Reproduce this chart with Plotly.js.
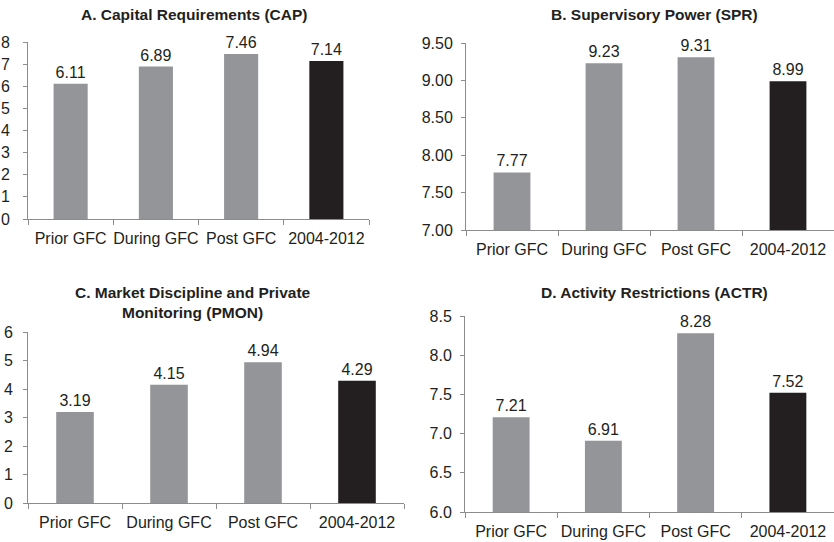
<!DOCTYPE html>
<html>
<head>
<meta charset="utf-8">
<script src="https://cdn.plot.ly/plotly-3.0.1.min.js"></script>
<style>html,body{margin:0;padding:0;background:#fff}#chart{width:834px;height:542px}</style>
</head>
<body>
<div id="chart"></div>
<script>
const categories = ['Prior GFC', 'During GFC', 'Post GFC', '2004-2012'];
const capValues = [6.11, 6.89, 7.46, 7.14];
const sprValues = [7.77, 9.23, 9.31, 8.99];
const pmonValues = [3.19, 4.15, 4.94, 4.29];
const actrValues = [7.21, 6.91, 8.28, 7.52];
const panelTitles = ['<b>A. Capital Requirements (CAP)</b>', '<b>B. Supervisory Power (SPR)</b>',
  '<b>C. Market Discipline and Private</b><br><b>Monitoring (PMON)</b>', '<b>D. Activity Restrictions (ACTR)</b>'];
const barColors = ['#939598', '#939598', '#939598', '#231f20'];

const FONT = 'Liberation Sans, Arial, sans-serif';
const TXT = '#231f20';
const W = 834, H = 542;
const px = v => v / W;
const py = v => 1 - v / H;

const series = [capValues, sprValues, pmonValues, actrValues];
const traces = series.map((vals, i) => ({
  type: 'bar',
  x: categories,
  y: vals,
  xaxis: i === 0 ? 'x' : 'x' + (i + 1),
  yaxis: i === 0 ? 'y' : 'y' + (i + 1),
  marker: {color: barColors},
  texttemplate: '%{y:.2f}',
  textposition: 'outside',
  constraintext: 'none',
  cliponaxis: false,
  outsidetextfont: {family: FONT, size: 16, color: TXT},
  hoverinfo: 'none',
  showlegend: false
}));

const xBase = {
  type: 'category', showline: true, linecolor: '#8c8c8c', linewidth: 1,
  ticks: 'outside', tickson: 'boundaries', ticklen: 5, tickcolor: '#8c8c8c',
  showgrid: false, zeroline: false, fixedrange: true, tickangle: 0,
  ticklabelstandoff: 5,
  tickfont: {family: FONT, size: 16, color: TXT}
};
const yBase = {
  showline: true, linecolor: '#8c8c8c', linewidth: 1,
  ticks: 'outside', ticklen: 4, tickcolor: '#8c8c8c',
  showgrid: false, zeroline: false, fixedrange: true,
  tickfont: {family: FONT, size: 16, color: TXT}
};

const layout = {
  width: W, height: H,
  margin: {l: 0, r: 0, t: 0, b: 0},
  paper_bgcolor: '#fff', plot_bgcolor: '#fff',
  bargap: 0.6,
  showlegend: false,
  xaxis:  Object.assign({}, xBase, {domain: [px(28), px(369)], anchor: 'y'}),
  yaxis:  Object.assign({}, yBase, {domain: [py(219), py(42)], anchor: 'x', range: [0, 8], dtick: 1, ticklabelstandoff: 10}),
  xaxis2: Object.assign({}, xBase, {domain: [px(466), px(834)], anchor: 'y2'}),
  yaxis2: Object.assign({}, yBase, {domain: [py(230), py(43)], anchor: 'x2', range: [7, 9.5], dtick: 0.5, tickformat: '.2f', ticklabelstandoff: 5}),
  xaxis3: Object.assign({}, xBase, {domain: [px(28), px(404)], anchor: 'y3'}),
  yaxis3: Object.assign({}, yBase, {domain: [py(503), py(332)], anchor: 'x3', range: [0, 6], dtick: 1, ticklabelstandoff: 7}),
  xaxis4: Object.assign({}, xBase, {domain: [px(465), px(834)], anchor: 'y4'}),
  yaxis4: Object.assign({}, yBase, {domain: [py(512), py(316)], anchor: 'x4', range: [6, 8.5], dtick: 0.5, tickformat: '.1f', ticklabelstandoff: 5}),
  annotations: [
    {text: panelTitles[0], x: px(194), y: py(15), xref: 'paper', yref: 'paper', showarrow: false, xanchor: 'center', yanchor: 'middle', font: {family: FONT, size: 15.5, color: TXT}},
    {text: panelTitles[1], x: px(654), y: py(15), xref: 'paper', yref: 'paper', showarrow: false, xanchor: 'center', yanchor: 'middle', font: {family: FONT, size: 15.5, color: TXT}},
    {text: panelTitles[2], x: px(193), y: py(302), xref: 'paper', yref: 'paper', showarrow: false, xanchor: 'center', yanchor: 'middle', font: {family: FONT, size: 15.5, color: TXT}},
    {text: panelTitles[3], x: px(654), y: py(292), xref: 'paper', yref: 'paper', showarrow: false, xanchor: 'center', yanchor: 'middle', font: {family: FONT, size: 15.5, color: TXT}}
  ]
};

Plotly.newPlot('chart', traces, layout, {displayModeBar: false, staticPlot: true});
</script>
</body>
</html>
